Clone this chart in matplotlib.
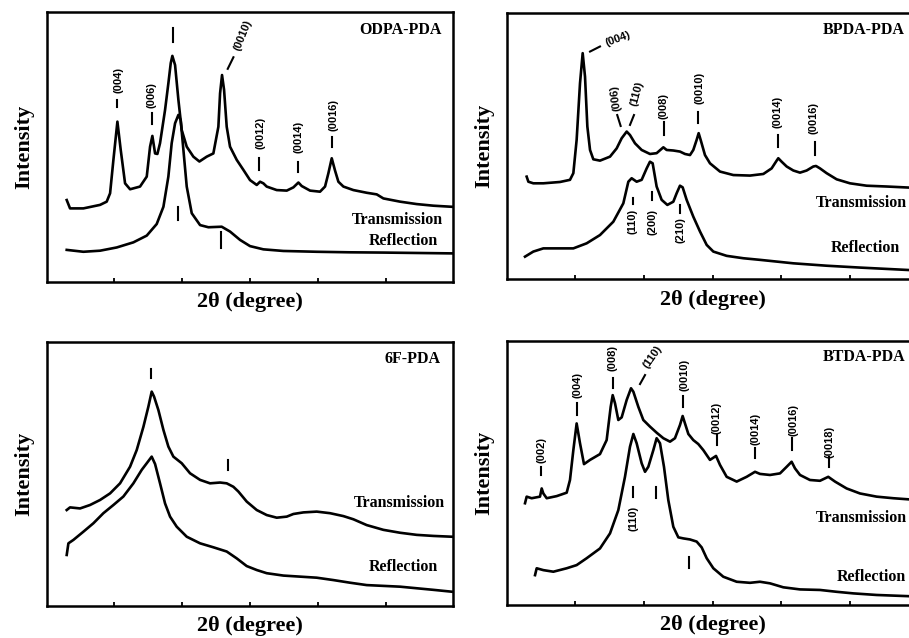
import matplotlib.pyplot as plt

plt.rcParams['font.family'] = ['Liberation Serif', 'DejaVu Serif']

# ---- ODPA-PDA (top left) ----
odpa_tx = [2.95, 3.44, 5.41, 7.87, 8.85, 9.35, 9.84, 10.43, 10.92, 11.56, 12.30, 13.77,
           14.76, 15.25, 15.59, 15.99, 16.33, 16.72, 17.46, 17.95, 18.30, 18.54, 18.94,
           19.43, 19.92, 20.66, 21.64, 22.53, 23.61, 24.59, 25.33, 25.58, 25.87, 26.17,
           26.56, 27.05, 28.04, 29.02, 30.00, 30.99, 31.48, 31.97, 32.46, 33.94, 35.42,
           36.40, 37.14, 37.63, 38.86, 40.33, 41.07, 41.56, 42.06, 42.55, 43.04, 43.78,
           45.25, 47.22, 48.70, 49.68, 52.14, 54.60, 57.06, 59.76]
odpa_ty = [30.3, 27.2, 27.2, 28.5, 29.7, 32.8, 45.2, 59.4, 48.9, 36.5, 34.3, 35.3,
           39.0, 50.1, 54.1, 47.6, 47.4, 51.4, 63.7, 73.6, 81.1, 83.8, 80.4,
           67.5, 56.3, 50.1, 46.4, 44.6, 46.4, 47.6, 57.5, 69.9, 76.7, 71.2,
           57.5, 50.1, 45.2, 41.5, 37.7, 35.9, 37.1, 36.5, 35.3, 34.0, 33.8,
           35.0, 36.8, 35.5, 33.8, 33.4, 35.3, 40.2, 45.8, 41.2, 37.1, 35.3,
           34.0, 33.0, 32.4, 30.9, 29.7, 28.8, 28.2, 27.8]
odpa_rx = [2.95, 5.41, 7.87, 10.33, 12.79, 14.76, 16.23, 17.22, 17.95, 18.44, 18.94,
           19.43, 19.77, 20.17, 20.66, 21.40, 22.63, 23.86, 25.82, 27.05, 28.53, 30.00,
           31.97, 34.92, 39.84, 44.76, 49.68, 59.76]
odpa_ry = [11.8, 11.1, 11.5, 12.7, 14.6, 17.1, 21.4, 27.8, 39.0, 51.4, 58.8,
           61.9, 60.0, 48.9, 35.3, 25.4, 21.0, 20.2, 20.4, 18.6, 15.5, 13.2,
           12.0, 11.4, 11.1, 10.9, 10.8, 10.5]
# label, text x, text y, rotation, tick x0, y0, x1, y1
odpa_peaks = [
    ('(004)', 10.58, 74.9, 90, 10.43, 67.5, 10.43, 64.7),
    ('(006)', 15.49, 69.3, 90, 15.49, 62.5, 15.49, 58.5),
    ('', 0, 0, 0, 18.69, 94.1, 18.69, 89.1),
    ('(0010)', 29.02, 91.6, 68, 26.71, 79.0, 27.55, 83.3),
    ('(0012)', 31.48, 55.1, 90, 31.38, 45.8, 31.38, 41.5),
    ('(0014)', 37.14, 53.8, 90, 37.14, 44.6, 37.14, 40.8),
    ('(0016)', 42.30, 61.9, 90, 42.15, 53.8, 42.15, 50.1),
    ('', 0, 0, 0, 19.33, 27.8, 19.33, 22.9),
    ('', 0, 0, 0, 25.73, 18.6, 25.73, 12.4),
]
# text, x, y, ha
odpa_texts = [('ODPA-PDA', 58.3, 93.4, 'right'),
              ('Transmission', 58.5, 22.9, 'right'),
              ('Reflection', 57.8, 15.2, 'right')]

# ---- BPDA-PDA (top right) ----
bpda_tx = [2.91, 3.16, 3.88, 5.34, 7.77, 9.22, 9.71, 10.19, 10.68, 11.07, 11.41, 11.75,
           12.14, 12.62, 13.59, 15.05, 16.02, 16.75, 17.48, 17.96, 18.69, 19.66, 20.87,
           21.84, 22.82, 23.30, 24.27, 25.24, 25.97, 26.70, 27.18, 27.67, 27.96, 28.25,
           28.88, 29.61, 31.07, 33.01, 35.44, 37.38, 38.59, 39.32, 39.56, 40.05, 40.78,
           41.75, 42.72, 43.69, 44.66, 45.05, 45.63, 46.60, 48.06, 50.00, 52.43, 55.34,
           58.59, 60.0]
bpda_ty = [38.5, 36.6, 36.0, 36.0, 36.5, 37.3, 39.8, 52.3, 73.5, 84.8, 76.0, 57.3,
           48.5, 45.0, 44.5, 46.0, 49.1, 52.9, 55.4, 54.1, 51.0, 48.5, 47.0,
           47.3, 49.5, 48.5, 48.3, 47.9, 47.0, 46.6, 48.5, 52.3, 54.8, 52.3,
           46.6, 43.5, 40.4, 39.1, 38.9, 39.5, 41.6, 44.5, 45.4, 44.1, 42.3,
           40.8, 40.0, 40.8, 42.3, 42.5, 41.6, 39.8, 37.5, 36.0, 35.1, 34.8,
           34.4, 34.3]
bpda_rx = [2.67, 3.88, 5.34, 7.28, 9.71, 11.65, 13.59, 15.53, 16.99, 17.72, 18.20, 18.93,
           19.66, 20.39, 20.87, 21.26, 21.84, 22.57, 23.40, 24.27, 24.76, 25.24, 25.63,
           26.21, 27.18, 28.16, 29.13, 30.10, 32.04, 34.47, 36.89, 41.75, 46.60, 51.46,
           60.0]
bpda_ry = [8.5, 10.4, 11.6, 11.6, 11.6, 13.5, 16.6, 21.6, 28.5, 36.6, 37.9, 36.6,
           37.3, 41.6, 44.1, 43.5, 34.8, 29.8, 27.9, 29.1, 32.3, 35.1, 34.5,
           29.8, 23.5, 17.9, 12.9, 10.4, 8.8, 7.9, 7.3, 6.0, 5.1, 4.4,
           3.3]
bpda_peaks = [
    ('(004)', 16.26, 90.0, 20, 12.14, 85.4, 13.59, 87.3),
    ('(006)', 15.92, 67.9, 98, 16.6, 57.5, 16.1, 61.6),
    ('(110)', 18.93, 69.8, 75, 17.96, 57.9, 18.54, 61.6),
    ('(008)', 22.91, 65.0, 90, 22.91, 59.1, 22.91, 54.1),
    ('(0010)', 28.06, 71.6, 90, 27.91, 62.9, 27.91, 58.5),
    ('(0014)', 39.42, 62.9, 90, 39.56, 54.1, 39.56, 49.8),
    ('(0016)', 44.76, 60.4, 90, 44.90, 51.6, 44.90, 46.6),
    ('(110)', 18.35, 21.6, 90, 18.35, 30.6, 18.35, 28.1),
    ('(200)', 21.26, 21.6, 90, 21.12, 32.9, 21.12, 29.8),
    ('(210)', 25.34, 18.5, 90, 25.24, 27.9, 25.24, 24.8),
]
bpda_texts = [('BPDA-PDA', 45.97, 93.5, 'left'),
              ('Transmission', 45.0, 28.5, 'left'),
              ('Reflection', 47.2, 11.6, 'left')]

# ---- 6F-PDA (bottom left) ----
f6_tx = [2.95, 3.44, 4.92, 6.39, 7.87, 9.35, 10.82, 12.30, 13.28, 14.27, 15.00, 15.49,
         15.84, 16.48, 17.22, 17.95, 18.69, 19.92, 21.15, 22.63, 24.10, 25.58, 26.56,
         27.54, 28.28, 29.51, 30.99, 32.46, 33.94, 35.42, 36.40, 37.88, 39.84, 41.81,
         43.78, 45.25, 47.22, 49.68, 52.14, 54.60, 57.06, 59.76]
f6_ty = [36.3, 37.3, 36.9, 38.2, 40.1, 42.6, 46.4, 52.7, 59.0, 67.8, 75.4, 81.1,
         79.2, 74.1, 66.6, 60.3, 56.5, 54.0, 50.2, 47.7, 46.4, 46.7, 46.4,
         45.1, 43.3, 39.5, 36.3, 34.4, 33.4, 33.8, 34.8, 35.4, 35.7, 35.1,
         34.0, 32.8, 30.6, 28.8, 27.7, 26.9, 26.5, 26.2]
f6_rx = [2.95, 3.20, 3.94, 5.41, 6.89, 8.36, 9.84, 11.31, 12.79, 14.02, 14.76, 15.49,
         15.99, 16.72, 17.46, 18.20, 19.18, 20.66, 22.63, 24.59, 26.56, 28.04, 29.51,
         30.99, 32.46, 34.92, 37.38, 39.84, 42.30, 44.76, 47.22, 49.68, 52.14, 54.60,
         57.06, 59.76]
f6_ry = [19.3, 23.7, 25.0, 28.1, 31.3, 35.1, 38.2, 41.4, 46.4, 51.5, 54.0, 56.5,
         53.7, 46.4, 38.8, 33.8, 30.0, 26.2, 23.7, 22.2, 20.6, 18.0, 15.1,
         13.6, 12.4, 11.5, 11.1, 10.7, 9.8, 8.8, 7.9, 7.6, 7.3, 6.7,
         6.1, 5.4]
f6_peaks = [
    ('', 0, 0, 0, 15.35, 89.5, 15.35, 86.1),
    ('', 0, 0, 0, 26.71, 55.2, 26.71, 51.5),
]
f6_texts = [('6F-PDA', 58.04, 93.3, 'right'),
            ('Transmission', 58.78, 38.8, 'right'),
            ('Reflection', 57.8, 14.9, 'right')]

# ---- BTDA-PDA (bottom right) ----
btda_tx = [2.67, 2.91, 3.64, 4.85, 5.10, 5.34, 5.83, 7.28, 8.74, 9.22, 9.71, 10.19,
           10.68, 11.26, 12.14, 13.59, 14.56, 15.15, 15.44, 15.78, 16.26, 16.75, 17.48,
           18.11, 18.45, 19.17, 19.90, 20.87, 21.84, 22.82, 23.79, 24.51, 25.24, 25.63,
           25.97, 26.46, 27.18, 27.91, 28.64, 29.61, 30.49, 31.07, 32.04, 33.50, 34.95,
           36.17, 36.89, 38.35, 39.81, 40.78, 41.50, 41.99, 42.72, 44.17, 45.63, 46.84,
           47.82, 49.51, 51.46, 53.88, 56.31, 60.0]
btda_ty = [38.5, 41.0, 40.4, 41.0, 44.1, 42.2, 40.4, 41.2, 42.5, 47.3, 58.6, 68.7,
           61.2, 53.3, 54.9, 57.1, 62.4, 75.0, 79.4, 76.3, 70.0, 71.0, 77.6,
           82.0, 80.7, 75.0, 70.0, 67.5, 65.2, 63.1, 61.8, 63.1, 68.1, 71.5,
           68.7, 64.7, 62.4, 60.9, 58.6, 54.9, 56.4, 53.0, 48.5, 46.7, 48.5,
           50.4, 49.6, 49.2, 49.8, 52.3, 54.2, 51.7, 49.2, 47.3, 47.0, 48.5,
           46.7, 44.1, 42.2, 41.0, 40.4, 39.7]
btda_rx = [4.13, 4.37, 5.34, 6.80, 8.74, 10.19, 11.65, 13.59, 15.05, 16.26, 17.23, 17.96,
           18.45, 18.93, 19.66, 20.15, 20.63, 21.36, 21.84, 22.33, 22.91, 23.54, 24.27,
           25.00, 25.73, 26.70, 27.67, 28.40, 29.13, 30.10, 31.55, 33.50, 35.44, 36.89,
           38.35, 40.29, 42.72, 45.63, 48.06, 50.49, 53.88, 60.0]
btda_ry = [11.3, 13.9, 13.2, 12.6, 13.9, 15.1, 17.7, 21.4, 27.1, 35.9, 48.5, 59.9,
           64.7, 61.2, 53.6, 50.4, 52.3, 58.6, 63.1, 61.2, 52.3, 39.7, 29.6,
           25.6, 25.2, 24.8, 24.0, 21.8, 17.7, 13.9, 10.7, 8.8, 8.4, 8.8,
           8.2, 6.7, 5.9, 5.7, 5.0, 4.4, 3.8, 3.2]
btda_peaks = [
    ('(002)', 5.10, 58.6, 90, 5.0, 52.3, 5.0, 49.2),
    ('(004)', 10.29, 83.2, 90, 10.19, 76.3, 10.19, 71.9),
    ('(008)', 15.44, 93.3, 90, 15.44, 85.8, 15.44, 82.0),
    ('(110)', 21.26, 93.9, 55, 19.42, 83.6, 20.15, 87.0),
    ('(0010)', 25.83, 87.0, 90, 25.73, 79.1, 25.73, 75.0),
    ('(0012)', 30.58, 70.6, 90, 30.58, 64.3, 30.58, 60.5),
    ('(0014)', 36.26, 66.8, 90, 36.17, 59.3, 36.17, 55.5),
    ('(0016)', 41.75, 70.0, 90, 41.60, 63.1, 41.60, 58.6),
    ('(0018)', 47.09, 61.8, 90, 46.99, 56.1, 46.99, 52.3),
    ('(110)', 18.54, 32.8, 90, 18.45, 44.8, 18.45, 41.0),
    ('', 0, 0, 0, 21.75, 44.8, 21.75, 40.4),
    ('', 0, 0, 0, 26.60, 18.3, 26.60, 13.9),
]
btda_texts = [('BTDA-PDA', 46.1, 93.9, 'left'),
              ('Transmission', 45.0, 32.8, 'left'),
              ('Reflection', 48.0, 10.7, 'left')]


def draw_panel(ax, tx, ty, rx, ry, peaks, texts):
    ax.plot(tx, ty, color='black', lw=1.9, solid_joinstyle='round')
    ax.plot(rx, ry, color='black', lw=1.9, solid_joinstyle='round')
    for lab, lx, ly, rot, x0, y0, x1, y1 in peaks:
        ax.plot([x0, x1], [y0, y1], color='black', lw=1.5)
        if lab:
            ax.text(lx, ly, lab, rotation=rot, ha='center', va='center',
                    fontsize=8, fontweight='bold', family=['Liberation Sans', 'DejaVu Sans'])
    for s, x, y, ha in texts:
        ax.text(x, y, s, ha=ha, va='center', fontsize=11.5, fontweight='bold')
    ax.set_xlim(0, 60)
    ax.set_ylim(0, 100)
    ax.set_xticks([10, 20, 30, 40, 50])
    ax.set_xticklabels([])
    ax.set_yticks([])
    ax.tick_params(axis='x', direction='in', length=3, width=1.3)
    for sp in ax.spines.values():
        sp.set_linewidth(1.8)
    ax.set_xlabel('2θ (degree)', fontsize=16, fontweight='bold', labelpad=4)
    ax.set_ylabel('Intensity', fontsize=16, fontweight='bold', labelpad=9)


fig = plt.figure(figsize=(9.09, 6.38), dpi=100)
ax1 = fig.add_axes([0.0514, 0.5585, 0.4473, 0.4223])
ax2 = fig.add_axes([0.5574, 0.5622, 0.4532, 0.4180])
ax3 = fig.add_axes([0.0514, 0.0502, 0.4473, 0.4143])
ax4 = fig.add_axes([0.5574, 0.0517, 0.4532, 0.4143])

draw_panel(ax1, odpa_tx, odpa_ty, odpa_rx, odpa_ry, odpa_peaks, odpa_texts)
draw_panel(ax2, bpda_tx, bpda_ty, bpda_rx, bpda_ry, bpda_peaks, bpda_texts)
draw_panel(ax3, f6_tx, f6_ty, f6_rx, f6_ry, f6_peaks, f6_texts)
draw_panel(ax4, btda_tx, btda_ty, btda_rx, btda_ry, btda_peaks, btda_texts)

fig.savefig('out.png', dpi=100)
